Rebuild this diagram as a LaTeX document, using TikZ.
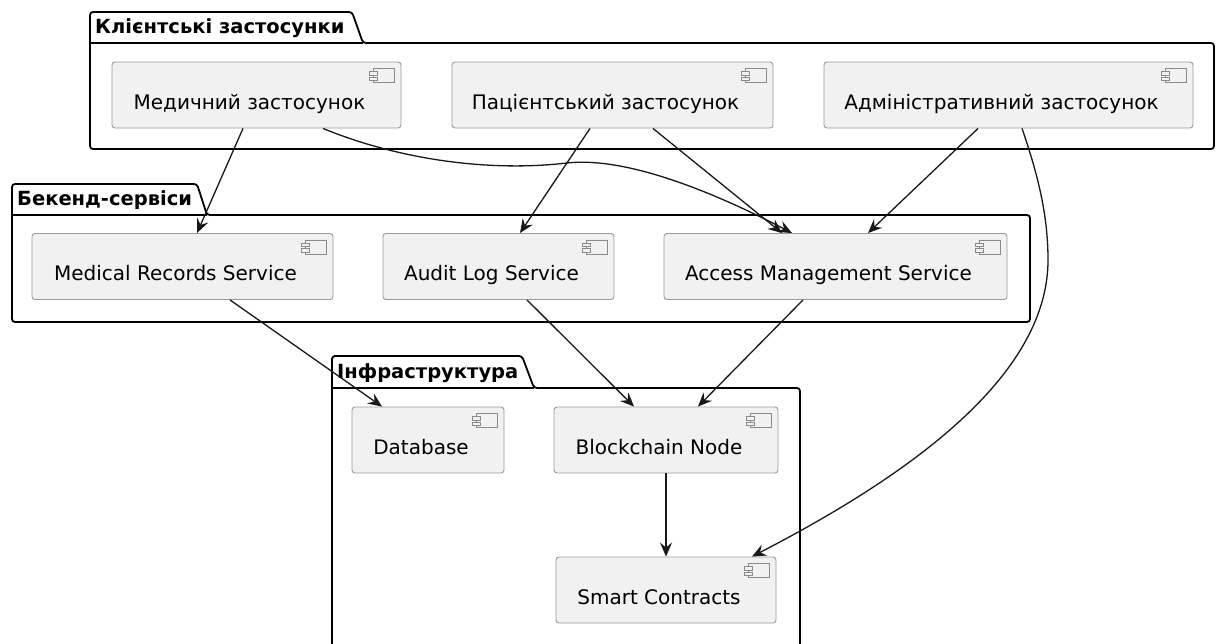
\documentclass[tikz,border=0pt]{standalone}
\usepackage{fontspec}
\setmainfont{DejaVu Sans}
\usetikzlibrary{arrows.meta}

\definecolor{compfill}{HTML}{F1F1F1}
\definecolor{compborder}{HTML}{9A9A9A}
\definecolor{iconc}{HTML}{8A8A8A}
\definecolor{arrowc}{HTML}{181818}

\tikzset{
  comp/.style={draw=compborder, fill=compfill, line width=0.9pt, rounded corners=3pt,
    minimum height=66pt, inner xsep=0pt, inner ysep=0pt,
    text height=28pt, text depth=0pt, text=black,
    font=\fontsize{20}{23}\selectfont},
  pkgline/.style={draw=black, line width=1.8pt, rounded corners=3pt},
  pkgtitle/.style={anchor=base west, inner sep=0pt, text=black,
    font=\fontsize{19.5}{22}\selectfont\bfseries},
  flow/.style={draw=arrowc, line width=1.3pt,
    -{Stealth[length=14pt,width=12pt,inset=5pt]}},
  icon/.style={draw=iconc, line width=0.8pt, fill=compfill},
}

% small component symbol in the top right corner of a component box
\newcommand\compicon[1]{%
  \draw[icon] ([xshift=-28pt,yshift=-7pt]#1.north east) rectangle ([xshift=-7pt,yshift=-21pt]#1.north east);
  \draw[icon] ([xshift=-32pt,yshift=-10pt]#1.north east) rectangle ([xshift=-24pt,yshift=-13.5pt]#1.north east);
  \draw[icon] ([xshift=-32pt,yshift=-15.5pt]#1.north east) rectangle ([xshift=-24pt,yshift=-19pt]#1.north east);
}

\begin{document}
\begin{tikzpicture}[x=1pt, y=-1pt]
\useasboundingbox (0,0) rectangle (1217,643);
\fill[white] (0,0) rectangle (1217,643);

% packages
\draw[pkgline] (90,149) -- (90,12) -- (352,12) -- (363,43) -- (1214,43) -- (1214,149) -- cycle;
\draw[line width=1.8pt] (90,43) -- (363,43);
\node[pkgtitle] (tclient) at (95,33) {Клієнтські застосунки};

\draw[pkgline] (12,322) -- (12,184) -- (197,184) -- (207,215) -- (1030,215) -- (1030,322) -- cycle;
\draw[line width=1.8pt] (12,215) -- (207,215);
\node[pkgtitle] (tback) at (17,205) {Бекенд-сервіси};

\draw[pkgline] (332,670) -- (332,356) -- (522,356) -- (534,388) -- (800,388) -- (800,670) -- cycle;
\draw[line width=1.8pt] (332,388) -- (534,388);
\node[pkgtitle] (tinfra) at (337,378) {Інфраструктура};

% client applications
\node[comp, minimum width=289pt] (med) at (256.5,95) {Медичний застосунок\kern14pt};
\node[comp, minimum width=321pt] (pat) at (612.5,95) {Пацієнтський застосунок\kern14pt};
\node[comp, minimum width=369pt] (adm) at (1008.5,95) {Адміністративний застосунок\kern14pt};

% backend services
\node[comp, minimum width=301pt] (mrs) at (182.5,266.5) {Medical Records Service\kern14pt};
\node[comp, minimum width=231pt] (als) at (498.5,266.5) {Audit Log Service\kern14pt};
\node[comp, minimum width=343pt] (ams) at (835.5,266.5) {Access Management Service\kern14pt};

% infrastructure
\node[comp, minimum width=152pt] (db) at (428,440) {Database\kern14pt};
\node[comp, minimum width=224pt] (bn) at (666,440) {Blockchain Node\kern14pt};
\node[comp, minimum width=220pt] (sc) at (666,590) {Smart Contracts\kern14pt};

\foreach \n in {med,pat,adm,mrs,als,ams,db,bn,sc} {\compicon{\n}}

% dependencies
\draw[flow] ([xshift=-13.5pt]med.south) -- ([xshift=14.5pt]mrs.north);
\draw[flow] ([xshift=66.5pt]med.south) .. controls (400,160) and (490,172) .. (567,163)
            .. controls (620,157) and (700,185) .. ([xshift=-43.5pt]ams.north);
\draw[flow] ([xshift=-22.5pt]pat.south) -- ([xshift=21.5pt]als.north);
\draw[flow] ([xshift=40.5pt]pat.south) -- ([xshift=-53.5pt]ams.north);
\draw[flow] ([xshift=-30.5pt]adm.south) -- ([xshift=32.5pt]ams.north);
\draw[flow] ([xshift=13.5pt]adm.south) .. controls (1038,175) and (1048,215) .. (1048,260)
            .. controls (1048,380) and (900,480) .. ([xshift=86pt]sc.north);
\draw[flow] ([xshift=47.5pt]mrs.south) -- ([xshift=-46pt]db.north);
\draw[flow] ([xshift=28.5pt]als.south) -- ([xshift=-32pt]bn.north);
\draw[flow] ([xshift=-32.5pt]ams.south) -- ([xshift=32pt]bn.north);
\draw[flow] (bn.south) -- (sc.north);
\end{tikzpicture}
\end{document}
